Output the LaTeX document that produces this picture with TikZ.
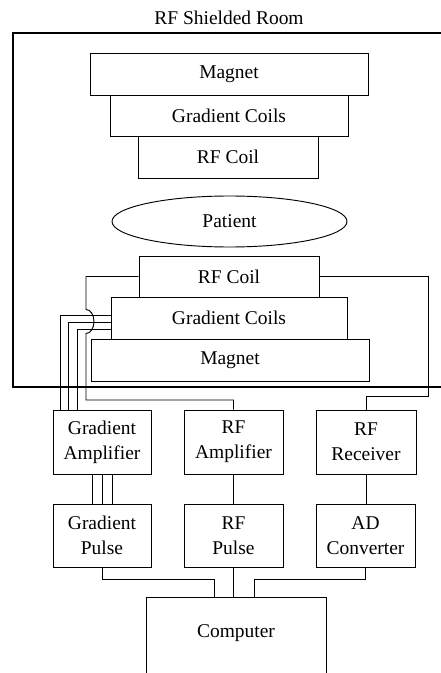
\documentclass[tikz,border=0pt]{standalone}
\usepackage{fontspec}
\setmainfont{Liberation Serif}
\usetikzlibrary{shapes.geometric,calc}

\begin{document}
\begin{tikzpicture}[x=0.75pt,y=0.75pt,yscale=-1,xscale=1,
  every node/.style={font=\fontsize{14.6}{18.5}\selectfont, align=center},
  unit/.style={draw, line width=0.7pt, inner sep=0pt},
  wire/.style={line width=0.7pt},
  room/.style={line width=2.2pt}]
\useasboundingbox (0,0) rectangle (441,673);
\clip (0,0) rectangle (441,673);

% Text Node
\node (title) at (229,18) {RF Shielded Room};

%Straight Lines (shielded room, open to the right)
\draw [room] (441,33) -| (13,387) -- (441,387);

% upper half of the scanner
\node (magA) [unit, minimum width=208.5pt, minimum height=31.5pt] at (229,74) {Magnet};
\node (gcA) [unit, minimum width=178.5pt, minimum height=30.75pt] at (229,115.75) {Gradient Coils};
\node (rfcA) [unit, minimum width=135pt, minimum height=31.1pt] at (228,157.25) {RF Coil};

% Ellipse
\node (patient) [unit, ellipse, minimum width=176.25pt, minimum height=38.25pt] at (229.5,221.5) {Patient};

% lower half of the scanner
\node (rfcB) [unit, minimum width=135pt, minimum height=30.75pt] at (229,276.5) {RF Coil};
\node (gcB) [unit, minimum width=177pt, minimum height=31.5pt] at (229,318) {Gradient Coils};
\node (magB) [unit, minimum width=208.5pt, minimum height=31.5pt] at (230,360) {Magnet};

% electronics outside the room
\node (gamp) [unit, minimum width=73.5pt, minimum height=48pt] at (102,442) {Gradient\\Amplifier};
\node (rfamp) [unit, minimum width=74.25pt, minimum height=48pt] at (233.5,442) {RF\\Amplifier};
\node (rfrec) [unit, minimum width=75pt, minimum height=48pt] at (366,442) {RF\\Receiver};

\node (gpulse) [unit, minimum width=73.5pt, minimum height=47.25pt] at (102,535.5) {Gradient\\Pulse};
\node (rfpulse) [unit, minimum width=74.25pt, minimum height=47.25pt] at (233.5,535.5) {RF\\Pulse};
\node (adc) [unit, minimum width=74.25pt, minimum height=47.25pt] at (365.5,535.5) {AD\\Converter};

\node (comp) [unit, anchor=north, minimum width=135pt, text height=30pt, text depth=45pt] at (236,597) {Computer};

%Straight Lines (gradient wires)
\coordinate (g1) at (60,315);
\coordinate (g2) at (68,322);
\coordinate (g3) at (77,329);
\foreach \g in {g1,g2,g3}
  \draw [wire] (gcB.west |- \g) -- (\g) -- (\g |- gamp.north);

%Curve Lines (transmit wire, hops over the gradient wires)
\coordinate (bumpT) at (86,309.5);
\coordinate (txa) at (86,400);
\draw [wire] (rfcB.west) -| (bumpT) arc[start angle=-90, end angle=90, x radius=8, y radius=12] -- (txa) -| (rfamp.north);

%Straight Lines (receive wire)
\coordinate (rxa) at (428,396);
\draw [wire] (rfcB.east) -| (rxa) -| (rfrec.north);

%Straight Lines (amplifiers to pulses)
\foreach \dx in {-10,0,10}
  \draw [wire] ($(gamp.south)+(\dx,0)$) -- ($(gpulse.north)+(\dx,0)$);
\draw [wire] (rfamp.south) -- (rfpulse.north);
\draw [wire] (rfrec.south) -- (rfrec.south |- adc.north);

%Straight Lines (to the computer)
\coordinate (ca) at (214,579);
\coordinate (cb) at (254,579);
\draw [wire] (gpulse.south) |- (ca) -- (ca |- comp.north);
\draw [wire] (rfpulse.south) -- (rfpulse.south |- comp.north);
\draw [wire] (adc.south) |- (cb) -- (cb |- comp.north);

\end{tikzpicture}
\end{document}
